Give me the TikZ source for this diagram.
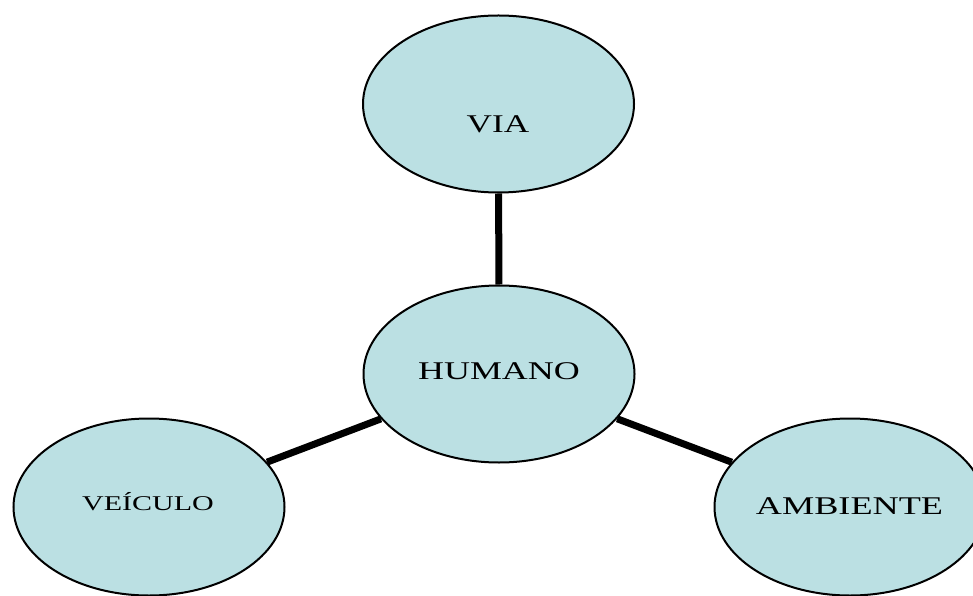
\documentclass[tikz,border=0pt]{standalone}
\usepackage{fontspec}
\setmainfont{Liberation Serif}
\usetikzlibrary{shapes.geometric}
\definecolor{bubble}{RGB}{187,224,227}
\tikzset{
  bub/.style={ellipse, draw=black, line width=2pt, fill=bubble, minimum width=271pt, minimum height=177pt, inner sep=0pt},
  lbl/.style={anchor=base, inner sep=0pt, text=black},
  conn/.style={line width=7pt, draw=black}
}
\begin{document}
\begin{tikzpicture}[x=1pt,y=1pt]
\useasboundingbox (0,0) rectangle (973,595);
\clip (0,0) rectangle (973,595);
\node[bub] (via) at (498.5,491) {};
\node[bub] (hum) at (499,221) {};
\node[bub] (vei) at (149,88) {};
\node[bub] (amb) at (850,88) {};
\draw[conn] (via) -- (hum);
\draw[conn] (hum) -- (vei);
\draw[conn] (hum) -- (amb);
\node[lbl] (tvia) at (498,462) {\fontsize{25.5}{30}\selectfont\scalebox{1.38}[1]{VIA}};
\node[lbl] (thum) at (499,216) {\fontsize{25.5}{30}\selectfont\scalebox{1.41}[1]{HUMANO}};
\node[lbl] (tvei) at (148,85) {\fontsize{21}{25}\selectfont\scalebox{1.43}[1]{VEÍCULO}};
\node[lbl] (tamb) at (849.5,81) {\fontsize{25.5}{30}\selectfont\scalebox{1.42}[1]{AMBIENTE}};
\end{tikzpicture}
\end{document}
